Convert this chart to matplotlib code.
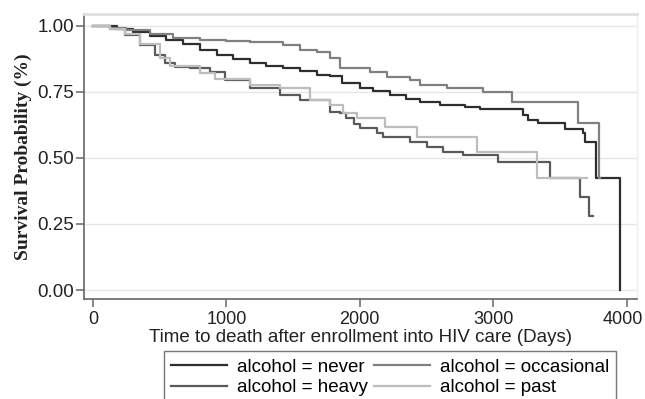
import matplotlib
matplotlib.use("Agg")
import matplotlib.pyplot as plt
from matplotlib.transforms import ScaledTranslation

# Kaplan-Meier step data (days, survival)
never_t = [0, 180, 300, 427, 550, 675, 800, 930, 1050, 1177, 1300, 1425, 1550, 1680,
           1780, 1867, 2002, 2100, 2227, 2350, 2452, 2600, 2790, 2902, 3223, 3261,
           3336, 3538, 3673, 3688, 3771, 3950]
never_s = [1.0, 0.99, 0.975, 0.96, 0.945, 0.93, 0.91, 0.89, 0.875, 0.86, 0.85, 0.84,
           0.828, 0.814, 0.81, 0.784, 0.765, 0.752, 0.739, 0.725, 0.712, 0.70, 0.693,
           0.685, 0.663, 0.644, 0.632, 0.61, 0.594, 0.56, 0.424, 0.0]

occ_t = [0, 127, 250, 427, 600, 802, 1000, 1177, 1425, 1552, 1680, 1777, 1852, 2077,
         2205, 2377, 2452, 2655, 2925, 3141, 3636, 3793, 3800]
occ_s = [1.0, 0.993, 0.985, 0.97, 0.955, 0.947, 0.943, 0.94, 0.928, 0.91, 0.90, 0.88,
         0.84, 0.826, 0.807, 0.795, 0.776, 0.765, 0.75, 0.713, 0.632, 0.424, 0.424]

heavy_t = [0, 127, 240, 352, 465, 540, 615, 727, 877, 990, 1177, 1402, 1552, 1777,
           1852, 1900, 1960, 2000, 2130, 2175, 2377, 2505, 2625, 2775, 3037, 3426,
           3651, 3718, 3748]
heavy_s = [1.0, 0.99, 0.966, 0.928, 0.89, 0.86, 0.845, 0.84, 0.826, 0.795, 0.765,
           0.74, 0.72, 0.674, 0.67, 0.65, 0.63, 0.613, 0.594, 0.58, 0.561, 0.542,
           0.523, 0.511, 0.485, 0.424, 0.353, 0.28, 0.28]

past_t = [0, 127, 240, 352, 502, 577, 802, 915, 1177, 1402, 1627, 1777, 1875, 1980,
          2190, 2430, 2880, 3330, 3700]
past_s = [1.0, 0.99, 0.97, 0.93, 0.88, 0.85, 0.82, 0.80, 0.776, 0.765, 0.72, 0.70,
          0.67, 0.651, 0.618, 0.58, 0.523, 0.424, 0.424]

x_ticks = [0, 1000, 2000, 3000, 4000]
y_ticks = [0.0, 0.25, 0.5, 0.75, 1.0]

plt.rcParams['font.family'] = ['Liberation Sans', 'DejaVu Sans']

fig = plt.figure(figsize=(6.45, 3.99), dpi=100)
ax = fig.add_axes([84 / 645, 1 - 299 / 399, (637 - 84) / 645, (299 - 14) / 399])

ax.plot(never_t, never_s, drawstyle='steps-post', color='#2e2e2e', lw=1.6, label='alcohol = never')
ax.plot(heavy_t, heavy_s, drawstyle='steps-post', color='#5a5a5a', lw=1.6, label='alcohol = heavy')
ax.plot(occ_t, occ_s, drawstyle='steps-post', color='#808080', lw=1.6, label='alcohol = occasional')
ax.plot(past_t, past_s, drawstyle='steps-post', color='#bdbdbd', lw=1.6, label='alcohol = past')

ax.set_xlim(-67, 4078)
ax.set_ylim(-0.034, 1.045)
ax.set_xticks(x_ticks)
ax.set_yticks(y_ticks)
ax.set_yticklabels([f"{v:.2f}" for v in y_ticks])
ax.grid(True, axis='y', color='#e6e6e6', lw=1)
ax.set_axisbelow(True)

for side in ('left', 'bottom'):
    ax.spines[side].set_color('#666666')
    ax.spines[side].set_linewidth(1.2)
ax.spines['top'].set_color('#e0e0e0')
ax.spines['top'].set_linewidth(2)
ax.spines['right'].set_color('#eeeeee')
ax.spines['right'].set_linewidth(1)
ax.tick_params(axis='both', direction='out', length=6, width=1.1, color='#666666',
               labelsize=13.5, labelcolor='#222222')
ax.tick_params(axis='y', pad=1)
ax.tick_params(axis='x', pad=3, labelsize=13)

# last x label sits right at the figure edge; nudge it in a little
last = ax.get_xticklabels()[-1]
last.set_transform(last.get_transform() + ScaledTranslation(-4 / 100, 0, fig.dpi_scale_trans))

ax.set_xlabel("Time to death after enrollment into HIV care (Days)", fontsize=13.5,
              color='#222222', labelpad=0)
ax.set_ylabel("Survival Probability (%)", fontsize=14, fontweight='bold',
              family=['Liberation Serif', 'DejaVu Serif'], color='#222222', labelpad=4)

handles, labels = ax.get_legend_handles_labels()
leg = fig.legend(handles, labels, ncol=2, loc='upper center',
                 bbox_to_anchor=(390 / 645, 1 - 351 / 399), bbox_transform=fig.transFigure,
                 fontsize=13.5, frameon=True, fancybox=False, handlelength=3.0,
                 columnspacing=0.35, handletextpad=0.5, labelspacing=0.2,
                 borderpad=0.4, borderaxespad=0)
leg.get_frame().set_edgecolor('#555555')
leg.get_frame().set_linewidth(1)

fig.savefig("out.png", dpi=100)
